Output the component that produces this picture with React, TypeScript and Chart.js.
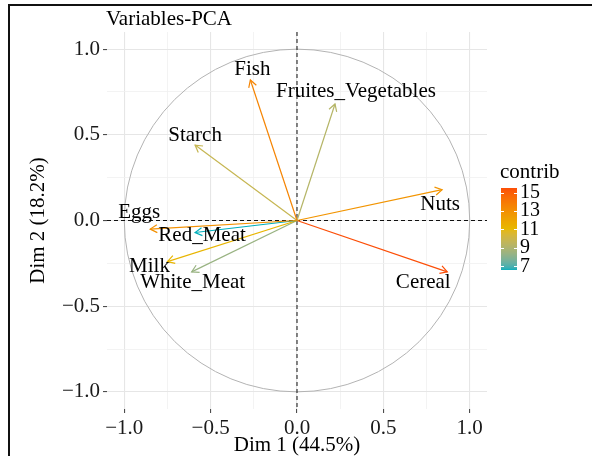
import React, { useEffect, useRef } from "react";
import { Chart, registerables } from "chart.js";

Chart.register(...registerables);

// Variable loadings on the first two principal dimensions
const VARIABLES = ["Fish", "Fruites_Vegetables", "Starch", "Nuts", "Cereal", "Eggs", "Red_Meat", "Milk", "White_Meat"];
const DIM1 = [-0.27, 0.22, -0.59, 0.84, 0.87, -0.85, -0.59, -0.75, -0.61];
const DIM2 = [0.82, 0.68, 0.44, 0.18, -0.3, -0.05, -0.07, -0.24, -0.3];
// Contribution (%) of each variable to Dim 1 + Dim 2
const CONTRIB = [13.5, 9.2, 9.8, 12.8, 15.5, 13.0, 6.6, 11.2, 8.4];

const AXIS_TICKS = [-1, -0.75, -0.5, -0.25, 0, 0.25, 0.5, 0.75, 1];
const LEGEND_TICKS = [7, 9, 11, 13, 15];
const PALETTE = ["#00AFBB", "#E7B800", "#FC4E07"];

const TITLE = "Variables-PCA";
const X_TITLE = "Dim 1 (44.5%)";
const Y_TITLE = "Dim 2 (18.2%)";
const LEGEND_TITLE = "contrib";

// where each label sits relative to its arrow tip (px)
const LABEL_NUDGE: [number, number][] = [
  [2, -10], [21, -12], [0, -10], [-2, 15], [-24, 11], [-11, -17], [7, 3], [-18, 5], [1, 11],
];

const FONT = "'Liberation Serif', 'Times New Roman', serif";

// --- colour interpolation in CIE Lab ---
const WHITE = [0.95047, 1, 1.08883];
const hexToRgb = (h: string) => {
  const n = parseInt(h.slice(1), 16);
  return [(n >> 16) & 255, (n >> 8) & 255, n & 255];
};
const toLin = (c: number) => {
  c /= 255;
  return c <= 0.04045 ? c / 12.92 : Math.pow((c + 0.055) / 1.055, 2.4);
};
const fromLin = (c: number) => {
  const v = c <= 0.0031308 ? 12.92 * c : 1.055 * Math.pow(c, 1 / 2.4) - 0.055;
  return Math.round(Math.max(0, Math.min(1, v)) * 255);
};
const rgbToLab = (rgb: number[]) => {
  const [r, g, b] = rgb.map(toLin);
  const x = (r * 0.4124 + g * 0.3576 + b * 0.1805) / WHITE[0];
  const y = (r * 0.2126 + g * 0.7152 + b * 0.0722) / WHITE[1];
  const z = (r * 0.0193 + g * 0.1192 + b * 0.9505) / WHITE[2];
  const f = (t: number) => (t > 0.008856 ? Math.cbrt(t) : 7.787 * t + 16 / 116);
  const fx = f(x), fy = f(y), fz = f(z);
  return [116 * fy - 16, 500 * (fx - fy), 200 * (fy - fz)];
};
const labToRgb = ([L, a, b]: number[]) => {
  const fy = (L + 16) / 116, fx = fy + a / 500, fz = fy - b / 200;
  const inv = (t: number) => (t ** 3 > 0.008856 ? t ** 3 : (t - 16 / 116) / 7.787);
  const x = inv(fx) * WHITE[0], y = inv(fy) * WHITE[1], z = inv(fz) * WHITE[2];
  const r = x * 3.2406 + y * -1.5372 + z * -0.4986;
  const g = x * -0.9689 + y * 1.8758 + z * 0.0415;
  const bb = x * 0.0557 + y * -0.204 + z * 1.057;
  return [fromLin(r), fromLin(g), fromLin(bb)];
};
const PALETTE_LAB = PALETTE.map((h) => rgbToLab(hexToRgb(h)));
const C_MIN = Math.min(...CONTRIB);
const C_MAX = Math.max(...CONTRIB);
const colorFor = (v: number) => {
  const t = Math.max(0, Math.min(1, (v - C_MIN) / (C_MAX - C_MIN)));
  const seg = Math.min(PALETTE_LAB.length - 2, Math.floor(t * (PALETTE_LAB.length - 1)));
  const u = t * (PALETTE_LAB.length - 1) - seg;
  const a = PALETTE_LAB[seg], b = PALETTE_LAB[seg + 1];
  const [r, g, bl] = labToRgb([0, 1, 2].map((i) => a[i] + (b[i] - a[i]) * u));
  return `rgb(${r},${g},${bl})`;
};

const isMajor = (v: number) => Math.abs(v * 2 - Math.round(v * 2)) < 1e-6;
const fmt = (v: number) => (v < 0 ? "\u2212" : "") + Math.abs(v).toFixed(1);

const makeScale = (text: string, titlePadding: any, fit: (s: any) => void) => ({
  type: "linear" as const,
  min: -1.1,
  max: 1.1,
  afterBuildTicks: (s: any) => {
    s.ticks = AXIS_TICKS.map((value) => ({ value }));
  },
  afterFit: fit,
  ticks: {
    callback: (v: any) => (isMajor(Number(v)) ? fmt(Number(v)) : ""),
    font: { family: FONT, size: 21 },
    color: "#1a1a1a",
    autoSkip: false,
    maxRotation: 0,
    padding: 3,
  },
  grid: {
    color: (c: any) => (isMajor(c.tick?.value ?? 0) ? "#E6E6E6" : "#F0F0F0"),
    lineWidth: (c: any) => (isMajor(c.tick?.value ?? 0) ? 1.1 : 0.8),
    tickColor: (c: any) => (isMajor(c.tick?.value ?? 0) ? "#4D4D4D" : "rgba(0,0,0,0)"),
    tickLength: 4,
    drawTicks: true,
  },
  border: { display: false },
  title: {
    display: true,
    text,
    font: { family: FONT, size: 21 },
    color: "#000",
    padding: titlePadding,
  },
});

const pcaDecor = {
  id: "pcaDecor",
  beforeDatasetsDraw(chart: any) {
    const { ctx, chartArea, scales } = chart;
    const xs = scales.x, ys = scales.y;
    const cx = xs.getPixelForValue(0), cy = ys.getPixelForValue(0);
    const rx = xs.getPixelForValue(1) - cx, ry = cy - ys.getPixelForValue(1);
    ctx.save();
    // correlation circle
    ctx.strokeStyle = "#B3B3B3";
    ctx.lineWidth = 1;
    ctx.beginPath();
    ctx.ellipse(cx, cy, rx, ry, 0, 0, Math.PI * 2);
    ctx.stroke();
    // reference lines at zero
    ctx.strokeStyle = "#111";
    ctx.setLineDash([4, 3]);
    ctx.beginPath();
    ctx.moveTo(chartArea.left, cy);
    ctx.lineTo(chartArea.right, cy);
    ctx.moveTo(cx, chartArea.top);
    ctx.lineTo(cx, chartArea.bottom);
    ctx.stroke();
    ctx.restore();
  },
  afterDatasetsDraw(chart: any) {
    const { ctx, chartArea } = chart;
    ctx.save();
    // arrow heads
    chart.data.datasets.forEach((ds: any, i: number) => {
      const pts = chart.getDatasetMeta(i).data;
      const o = pts[0], t = pts[1];
      const ang = Math.atan2(t.y - o.y, t.x - o.x);
      const L = 8, spread = Math.PI / 6;
      ctx.strokeStyle = ds.borderColor;
      ctx.lineWidth = 1.2;
      ctx.beginPath();
      ctx.moveTo(t.x - L * Math.cos(ang - spread), t.y - L * Math.sin(ang - spread));
      ctx.lineTo(t.x, t.y);
      ctx.lineTo(t.x - L * Math.cos(ang + spread), t.y - L * Math.sin(ang + spread));
      ctx.stroke();
    });
    // variable labels
    ctx.fillStyle = "#000";
    ctx.font = `21px ${FONT}`;
    ctx.textAlign = "center";
    ctx.textBaseline = "middle";
    chart.data.datasets.forEach((ds: any, i: number) => {
      const t = chart.getDatasetMeta(i).data[1];
      const [dx, dy] = LABEL_NUDGE[i];
      ctx.fillText(ds.label, t.x + dx, t.y + dy);
    });
    // plot title
    ctx.textAlign = "left";
    ctx.fillText(TITLE, chartArea.left - 1, 19.5);

    // colour bar legend
    const bx = 501, bw = 16, top = 188, bottom = 270;
    const vToY = (v: number) => bottom - ((v - C_MIN) / (C_MAX - C_MIN)) * (bottom - top);
    for (let y = top; y < bottom; y += 1) {
      const v = C_MIN + ((bottom - y - 0.5) / (bottom - top)) * (C_MAX - C_MIN);
      ctx.fillStyle = colorFor(v);
      ctx.fillRect(bx, y, bw, 1);
    }
    ctx.strokeStyle = "#fff";
    ctx.lineWidth = 1;
    ctx.font = `20px ${FONT}`;
    LEGEND_TICKS.forEach((v) => {
      const y = Math.round(vToY(v)) + 0.5;
      ctx.beginPath();
      ctx.moveTo(bx, y);
      ctx.lineTo(bx + 3, y);
      ctx.moveTo(bx + bw - 3, y);
      ctx.lineTo(bx + bw, y);
      ctx.stroke();
      ctx.fillStyle = "#000";
      ctx.fillText(String(v), bx + bw + 3, vToY(v));
    });
    ctx.font = `21px ${FONT}`;
    ctx.fillText(LEGEND_TITLE, 500, 172);
    ctx.restore();
  },
};

export default function App() {
  const ref = useRef<HTMLCanvasElement>(null);

  useEffect(() => {
    const canvas = ref.current;
    if (!canvas) return;
    const datasets = VARIABLES.map((name, i) => ({
      label: name,
      data: [
        { x: 0, y: 0 },
        { x: DIM1[i], y: DIM2[i] },
      ],
      showLine: true,
      borderColor: colorFor(CONTRIB[i]),
      borderWidth: 1.2,
      pointRadius: 0,
      pointHoverRadius: 0,
      fill: false,
    }));
    const chart = new Chart(canvas, {
      type: "scatter",
      data: { datasets },
      plugins: [pcaDecor],
      options: {
        animation: false,
        responsive: false,
        devicePixelRatio: 1,
        layout: { padding: { left: 0, right: 105, top: 32, bottom: 0 } },
        plugins: { legend: { display: false }, tooltip: { enabled: false } },
        scales: {
          x: makeScale(X_TITLE, { top: 0, bottom: 12.4 }, (s: any) => {
            s.height = 61;
          }),
          y: makeScale(Y_TITLE, { top: 25.4, bottom: 0 }, (s: any) => {
            s.width = 107;
          }),
        },
      } as any,
    });
    return () => chart.destroy();
  }, []);

  return (
    <div
      style={{
        position: "fixed",
        left: 0,
        top: 0,
        width: 592,
        height: 456,
        overflow: "hidden",
        background: "#fff",
      }}
    >
      <div
        style={{
          position: "absolute",
          left: 8,
          top: 4,
          width: 700,
          height: 600,
          borderLeft: "2px solid #111",
          borderTop: "2px solid #111",
        }}
      />
      <canvas
        ref={ref}
        width={592}
        height={470}
        style={{ position: "absolute", left: 0, top: 0, width: 592, height: 470 }}
      />
    </div>
  );
}
